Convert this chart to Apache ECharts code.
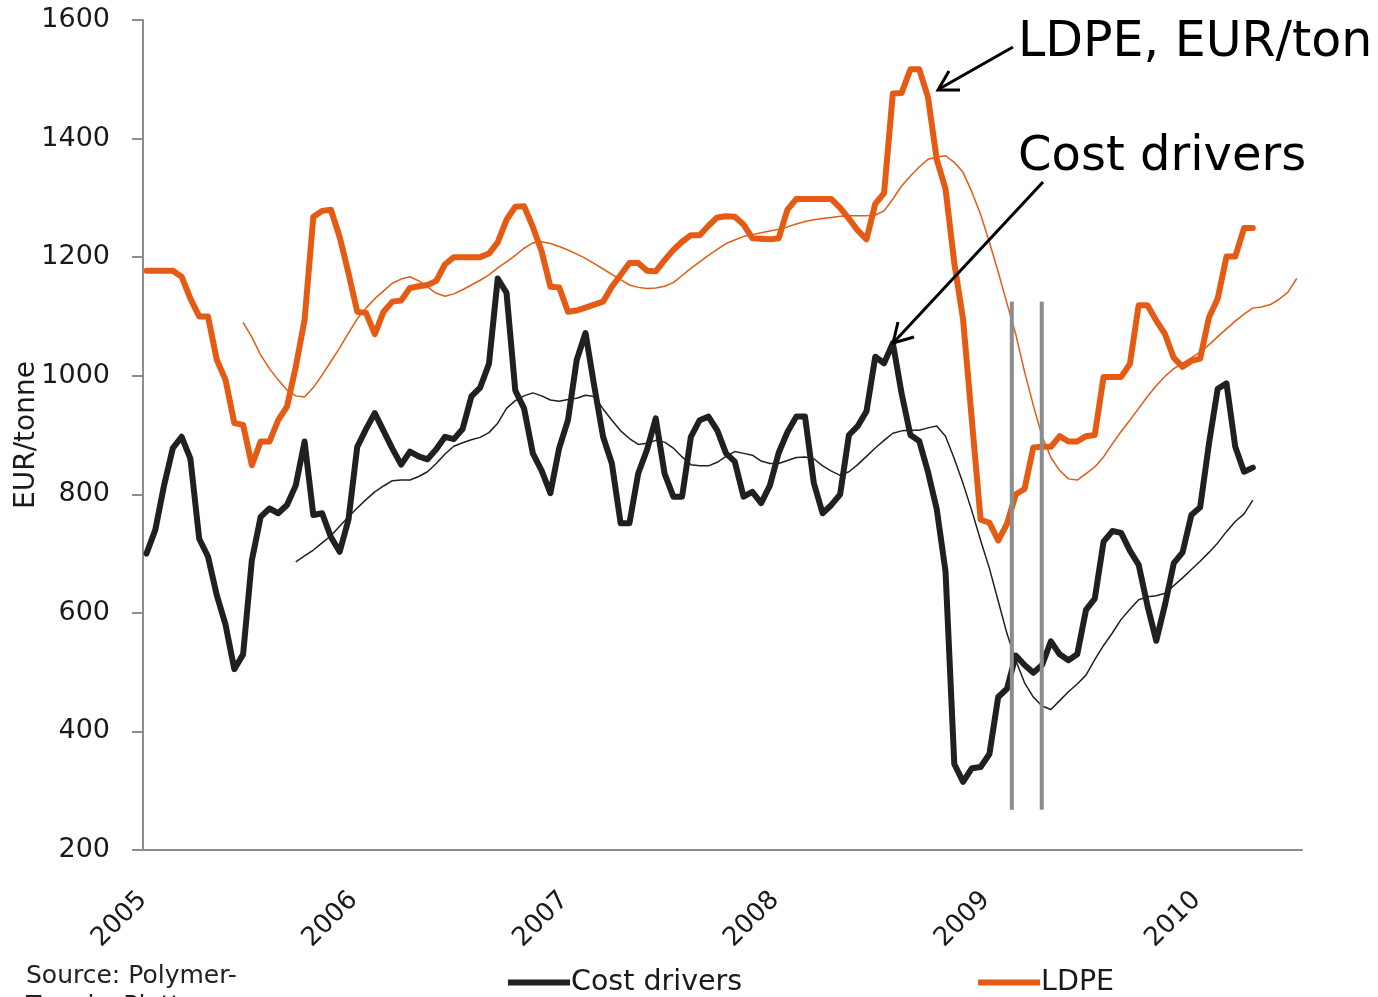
<!DOCTYPE html>
<html>
<head>
<meta charset="utf-8">
<script src="https://cdn.jsdelivr.net/npm/echarts@6/dist/echarts.min.js"></script>
<style>
html,body{margin:0;padding:0;background:#fff;}
#chart{width:1378px;height:997px;}
</style>
</head>
<body>
<div id="chart"></div>
<script>
// ---- Data (semi-monthly observations, first period = early Jan 2005) ----
const yearTicks = [2005, 2006, 2007, 2008, 2009, 2010];
const periodsPerYear = 24;

// LDPE price, EUR/tonne (periods 0..126)
const ldpe = [1177,1177,1177,1177,1167,1130,1100,1100,1027,993,
  920,917,849,889,889,925,948,1015,1094,1268,
  1278,1280,1234,1173,1108,1106,1070,1108,1125,1127,
  1148,1151,1153,1160,1188,1200,1200,1200,1200,1206,
  1225,1263,1285,1286,1251,1210,1150,1149,1108,1110,
  1115,1120,1125,1150,1170,1190,1190,1177,1176,1195,
  1212,1226,1237,1237,1253,1267,1269,1268,1255,1232,
  1231,1230,1232,1280,1298,1298,1298,1298,1298,1283,
  1265,1245,1230,1290,1308,1476,1477,1517,1517,1470,
  1365,1315,1190,1095,925,757,752,722,750,800,
  809,879,880,880,898,889,889,898,900,998,
  998,998,1020,1119,1119,1093,1070,1030,1015,1025,
  1029,1098,1130,1201,1201,1249,1249];

// LDPE moving average (periods 11..131)
const ldpeAvgStart = 11;
const ldpeAvg = [1090,1065,1035,1012,993,976,966,964,980,1001,
  1024,1047,1072,1096,1114,1130,1143,1156,1163,1167,
  1160,1150,1139,1134,1138,1145,1153,1161,1170,1182,
  1192,1203,1215,1224,1226,1223,1218,1212,1205,1198,
  1189,1180,1171,1162,1153,1149,1147,1148,1151,1157,
  1169,1181,1192,1203,1213,1223,1229,1235,1238,1241,
  1244,1247,1251,1256,1260,1263,1265,1267,1269,1270,
  1270,1270,1271,1278,1298,1320,1337,1352,1365,1369,
  1371,1360,1343,1310,1272,1225,1175,1122,1070,1007,
  950,898,862,840,826,824,835,846,863,885,
  906,925,945,965,983,999,1012,1021,1030,1040,
  1052,1066,1079,1092,1104,1114,1116,1120,1129,1141,
  1164];

// Cost drivers, EUR/tonne (periods 0..126)
const cost = [700,740,815,878,897,860,725,695,630,580,
  505,530,689,762,776,768,782,815,889,765,
  768,728,703,757,880,910,937,907,877,850,
  872,864,859,876,897,893,910,965,980,1020,
  1164,1140,975,945,869,840,802,878,925,1027,
  1072,982,897,852,751,751,835,875,928,835,
  796,796,897,925,931,908,869,855,796,804,
  785,815,870,905,931,931,819,768,782,800,
  900,915,940,1032,1021,1055,970,900,890,838,
  775,670,345,315,338,340,362,458,472,528,
  512,499,512,552,530,520,530,605,624,720,
  738,735,705,681,612,553,614,684,702,765,
  778,885,978,987,880,838,845];

// Cost drivers moving average (periods 17..126)
const costAvgStart = 17;
const costAvg = [686,696,706,718,730,746,762,777,791,804,
  814,823,824,824,830,838,852,868,881,887,
  892,896,904,920,945,958,966,971,966,959,
  957,960,962,967,965,944,925,907,894,884,
  886,891,888,878,863,850,848,848,854,864,
  872,869,866,856,852,852,857,862,863,860,
  848,839,832,838,850,864,878,891,903,907,
  908,908,912,915,898,860,818,772,722,675,
  620,565,520,482,458,443,437,452,467,480,
  495,521,545,566,589,606,622,627,629,633,
  646,659,673,687,702,718,737,754,767,790];

// Vertical marker dates (decimal years) and their value span
const markerDates = [2009.123, 2009.265];
const markerSpan = [268, 1125];

const yTicks = [200, 400, 600, 800, 1000, 1200, 1400, 1600];

// ---- Build ----
function periodTime(i) { return yearTicks[0] + (i + 0.4) / periodsPerYear; }
function toPairs(values, start) { return values.map((v, k) => [periodTime(start + k), v]); }

const FONT = '"DejaVu Sans", Verdana, sans-serif';
const ORANGE = '#E55B13';
const BLACK = '#1E2120';
const GRAY = '#8C8C8C';
const TEXT = '#1a1a1a';

const chart = echarts.init(document.getElementById('chart'), null, {renderer: 'canvas'});

const markerSeries = markerDates.map((d, k) => ({
  name: 'marker' + k,
  type: 'line',
  data: markerSpan.map(v => [d, v]),
  showSymbol: false,
  silent: true,
  lineStyle: {color: GRAY, width: 4},
  z: 10
}));

chart.setOption({
  animation: false,
  backgroundColor: '#ffffff',
  textStyle: {fontFamily: FONT},
  grid: {left: 143, right: 76, top: 20, bottom: 147, containLabel: false, outerBoundsMode: 'none'},
  xAxis: {
    type: 'value',
    min: yearTicks[0],
    max: 2010.5,
    interval: 1,
    axisLine: {show: true, lineStyle: {color: GRAY, width: 2}},
    axisTick: {show: false},
    splitLine: {show: false},
    axisLabel: {
      rotate: 45,
      margin: 46,
      fontSize: 26,
      fontFamily: FONT,
      color: TEXT,
      showMaxLabel: false,
      formatter: v => yearTicks.includes(v) ? String(v) : ''
    }
  },
  yAxis: {
    type: 'value',
    min: yTicks[0],
    max: yTicks[yTicks.length - 1],
    interval: 200,
    name: 'EUR/tonne',
    nameLocation: 'middle',
    nameRotate: 90,
    nameGap: 102,
    nameMoveOverlap: false,
    nameTextStyle: {fontSize: 28, fontFamily: FONT, color: TEXT},
    axisLine: {show: true, lineStyle: {color: GRAY, width: 2}},
    axisTick: {show: true, inside: false, length: 11, lineStyle: {color: GRAY, width: 2}},
    splitLine: {show: false},
    axisLabel: {margin: 33, fontSize: 27, fontFamily: FONT, color: TEXT, formatter: v => String(v)}
  },
  legend: {
    data: [{name: 'Cost drivers'}, {name: 'LDPE'}],
    left: 503,
    top: 963,
    icon: 'rect',
    itemWidth: 62,
    itemHeight: 6,
    itemGap: 236,
    textStyle: {fontSize: 28.5, fontFamily: FONT, color: TEXT, padding: [0, 0, 0, -4]}
  },
  series: [
    {
      name: 'Cost drivers avg', type: 'line', data: toPairs(costAvg, costAvgStart),
      showSymbol: false, silent: true,
      lineStyle: {color: BLACK, width: 1.5}, itemStyle: {color: BLACK}, z: 2
    },
    {
      name: 'LDPE avg', type: 'line', data: toPairs(ldpeAvg, ldpeAvgStart),
      showSymbol: false, silent: true,
      lineStyle: {color: ORANGE, width: 1.5}, itemStyle: {color: ORANGE}, z: 2
    },
    {
      name: 'Cost drivers', type: 'line', data: toPairs(cost, 0),
      showSymbol: false, silent: true,
      lineStyle: {color: BLACK, width: 6, join: 'round', cap: 'round'}, itemStyle: {color: BLACK}, z: 3
    },
    {
      name: 'LDPE', type: 'line', data: toPairs(ldpe, 0),
      showSymbol: false, silent: true,
      lineStyle: {color: ORANGE, width: 6, join: 'round', cap: 'round'}, itemStyle: {color: ORANGE}, z: 3
    }
  ].concat(markerSeries),
  graphic: [
    {type: 'text', z: 20, style: {text: 'LDPE, EUR/ton', x: 1018, y: 43, font: '49px ' + FONT, fill: '#000', align: 'left', verticalAlign: 'middle'}},
    {type: 'text', z: 20, style: {text: 'Cost drivers', x: 1018, y: 158, font: '48px ' + FONT, fill: '#000', align: 'left', verticalAlign: 'middle'}},
    {type: 'polyline', z: 20, shape: {points: [[1013, 47], [939, 89]]}, style: {stroke: '#000', lineWidth: 3, fill: null}},
    {type: 'polyline', z: 20, shape: {points: [[960, 90], [938, 90], [949, 71]]}, style: {stroke: '#000', lineWidth: 3, fill: null, lineJoin: 'miter'}},
    {type: 'polyline', z: 20, shape: {points: [[1043, 182], [894, 342]]}, style: {stroke: '#000', lineWidth: 3, fill: null}},
    {type: 'polyline', z: 20, shape: {points: [[914, 337], [893, 343], [898, 322]]}, style: {stroke: '#000', lineWidth: 3, fill: null, lineJoin: 'miter'}},
    {type: 'text', z: 20, style: {text: 'Source: Polymer-\nTrends, Platts', x: 26, y: 961, font: '25px ' + FONT, lineHeight: 30, fill: '#222', align: 'left', verticalAlign: 'top'}}
  ]
});
</script>
</body>
</html>
